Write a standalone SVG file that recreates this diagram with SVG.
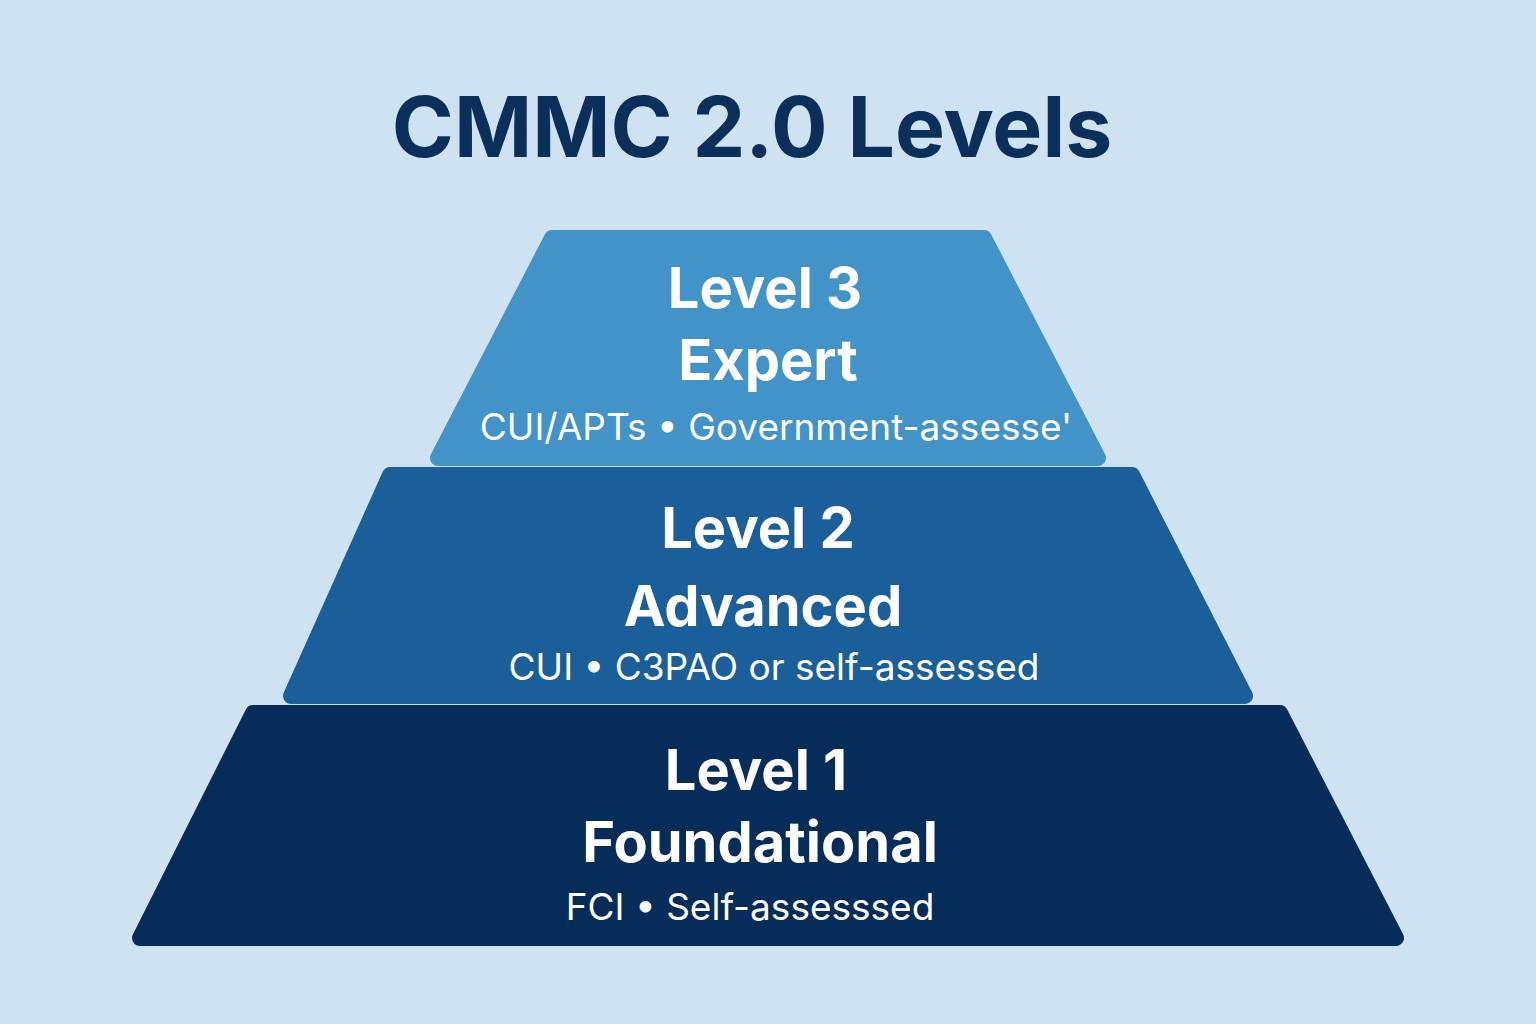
<svg xmlns="http://www.w3.org/2000/svg" width="1536" height="1024" viewBox="0 0 1536 1024">
<style>
.t{font-family:Inter,"Noto Sans","Liberation Sans",sans-serif;fill:#fff;text-anchor:middle}
.h{font-weight:700;font-size:56px}
.s{font-size:37px}
.tier{stroke-width:16;stroke-linejoin:round}
</style>
<rect width="1536" height="1024" fill="#cfe2f2"/>
<text x="752" y="157" font-family="Inter,'Noto Sans','Liberation Sans',sans-serif" font-weight="700" font-size="84" fill="#0b2f5b" text-anchor="middle">CMMC 2.0 Levels</text>
<g id="level1">
<polygon class="tier" points="253,713 1280,713 1396,938 140,938" fill="#062c5a" stroke="#062c5a"/>
<text class="t h" x="756" y="790">Level 1</text>
<text class="t h" x="760" y="862">Foundational</text>
<text class="t s" x="750" y="920">FCI • Self-assesssed</text>
</g>
<g id="level2">
<polygon class="tier" points="390,475 1132,475 1245,696 291,696" fill="#1a5f9a" stroke="#1a5f9a"/>
<text class="t h" x="758" y="548">Level 2</text>
<text class="t h" x="763" y="626">Advanced</text>
<text class="t s" x="774" y="680">CUI • C3PAO or self-assessed</text>
</g>
<g id="level3">
<polygon class="tier" points="552,238 984,238 1098,458 438,458" fill="#4293c8" stroke="#4293c8"/>
<text class="t h" x="765" y="308">Level 3</text>
<text class="t h" x="768" y="380">Expert</text>
<text class="t s" x="776" y="440">CUI/APTs • Government-assesse'</text>
</g>
<g id="connectors"/>
</svg>
